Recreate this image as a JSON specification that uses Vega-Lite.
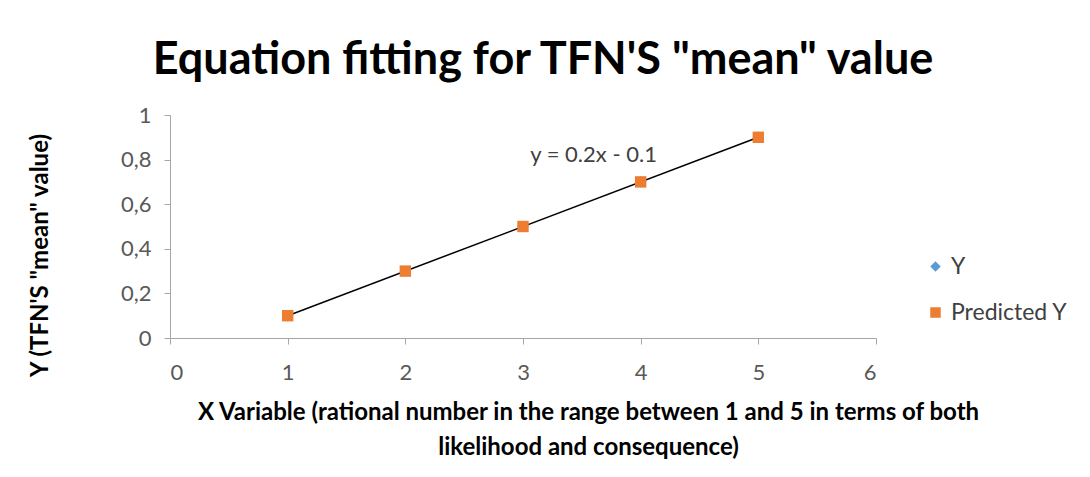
{
  "$schema": "https://vega.github.io/schema/vega-lite/v6.json",
  "autosize": "none",
  "width": 706,
  "height": 223,
  "padding": {"left": 170, "top": 115, "right": 214, "bottom": 139},
  "background": "white",
  "config": {
    "view": {"stroke": null},
    "font": "Lato"
  },
  "title": {
    "text": "Equation fitting for TFN'S \"mean\" value",
    "font": "Lato",
    "fontSize": 45,
    "fontWeight": "bold",
    "color": "#000000",
    "anchor": "middle",
    "dx": 20,
    "offset": 21
  },
  "datasets": {
    "pts": [
      {"x": 1, "series": "Y", "y": 0.1},
      {"x": 2, "series": "Y", "y": 0.3},
      {"x": 3, "series": "Y", "y": 0.5},
      {"x": 4, "series": "Y", "y": 0.7},
      {"x": 5, "series": "Y", "y": 0.9},
      {"x": 1, "series": "Predicted Y", "y": 0.1},
      {"x": 2, "series": "Predicted Y", "y": 0.3},
      {"x": 3, "series": "Predicted Y", "y": 0.5},
      {"x": 4, "series": "Predicted Y", "y": 0.7},
      {"x": 5, "series": "Predicted Y", "y": 0.9}
    ],
    "trend": [
      {"x": 1, "y": 0.1},
      {"x": 5, "y": 0.9}
    ],
    "note": [
      {"x": 3.6, "y": 0.82, "label": "y = 0.2x - 0.1"}
    ]
  },
  "layer": [
    {
      "data": {"name": "trend"},
      "mark": {"type": "line", "color": "#000000", "strokeWidth": 1.5},
      "encoding": {
        "x": {
          "field": "x", "type": "quantitative",
          "scale": {"domain": [0, 6], "nice": false},
          "axis": {
            "values": [0, 1, 2, 3, 4, 5, 6],
            "format": "~g",
            "grid": false,
            "domainColor": "#A6A6A6",
            "tickColor": "#A6A6A6",
            "tickSize": 6,
            "labelFont": "Lato",
            "labelFontSize": 22,
            "labelColor": "#595959",
            "labelPadding": 18,
            "title": ["X Variable (rational number in the range between 1 and 5 in terms of both", "likelihood and consequence)"],
            "titleFont": "Lato",
            "titleFontSize": 24,
            "titleFontWeight": "bold",
            "titleColor": "#000000",
            "titleX": 418,
            "titleY": 62,
            "titleAlign": "center",
            "titleBaseline": "top",
            "titleLineHeight": 35
          }
        },
        "y": {
          "field": "y", "type": "quantitative",
          "scale": {"domain": [0, 1], "nice": false},
          "axis": {
            "values": [0, 0.2, 0.4, 0.6, 0.8, 1],
            "format": "~g",
            "grid": false,
            "domainColor": "#A6A6A6",
            "tickColor": "#A6A6A6",
            "tickSize": 6,
            "labelFont": "Lato",
            "labelFontSize": 22,
            "labelColor": "#595959",
            "labelPadding": 13,
            "labelExpr": "replace(datum.label, '.', ',')",
            "title": "Y (TFN'S \"mean\" value)",
            "titleFont": "Lato",
            "titleFontSize": 24,
            "titleFontWeight": "bold",
            "titleColor": "#000000",
            "titleX": -130,
            "titleY": 140,
            "titleAngle": -90,
            "titleAlign": "center",
            "titleBaseline": "middle"
          }
        }
      }
    },
    {
      "data": {"name": "pts"},
      "mark": {"type": "point", "filled": true, "opacity": 1, "size": 130},
      "encoding": {
        "x": {"field": "x", "type": "quantitative"},
        "y": {"field": "y", "type": "quantitative"},
        "color": {
          "field": "series", "type": "nominal",
          "scale": {"domain": ["Y", "Predicted Y"], "range": ["#5B9BD5", "#ED7D31"]},
          "legend": {
            "title": null,
            "orient": "none",
            "legendX": 754,
            "legendY": 140,
            "labelFont": "Lato",
            "labelFontSize": 23,
            "labelColor": "#404040",
            "symbolSize": 110,
            "rowPadding": 22,
            "labelOffset": 4
          }
        },
        "shape": {
          "field": "series", "type": "nominal",
          "scale": {"domain": ["Y", "Predicted Y"], "range": ["diamond", "square"]},
          "legend": null
        },
        "order": {"field": "series", "sort": "descending"}
      }
    },
    {
      "data": {"name": "note"},
      "mark": {"type": "text", "font": "Lato", "fontSize": 22, "color": "#404040", "align": "center", "baseline": "middle"},
      "encoding": {
        "x": {"field": "x", "type": "quantitative"},
        "y": {"field": "y", "type": "quantitative"},
        "text": {"field": "label"}
      }
    }
  ]
}
